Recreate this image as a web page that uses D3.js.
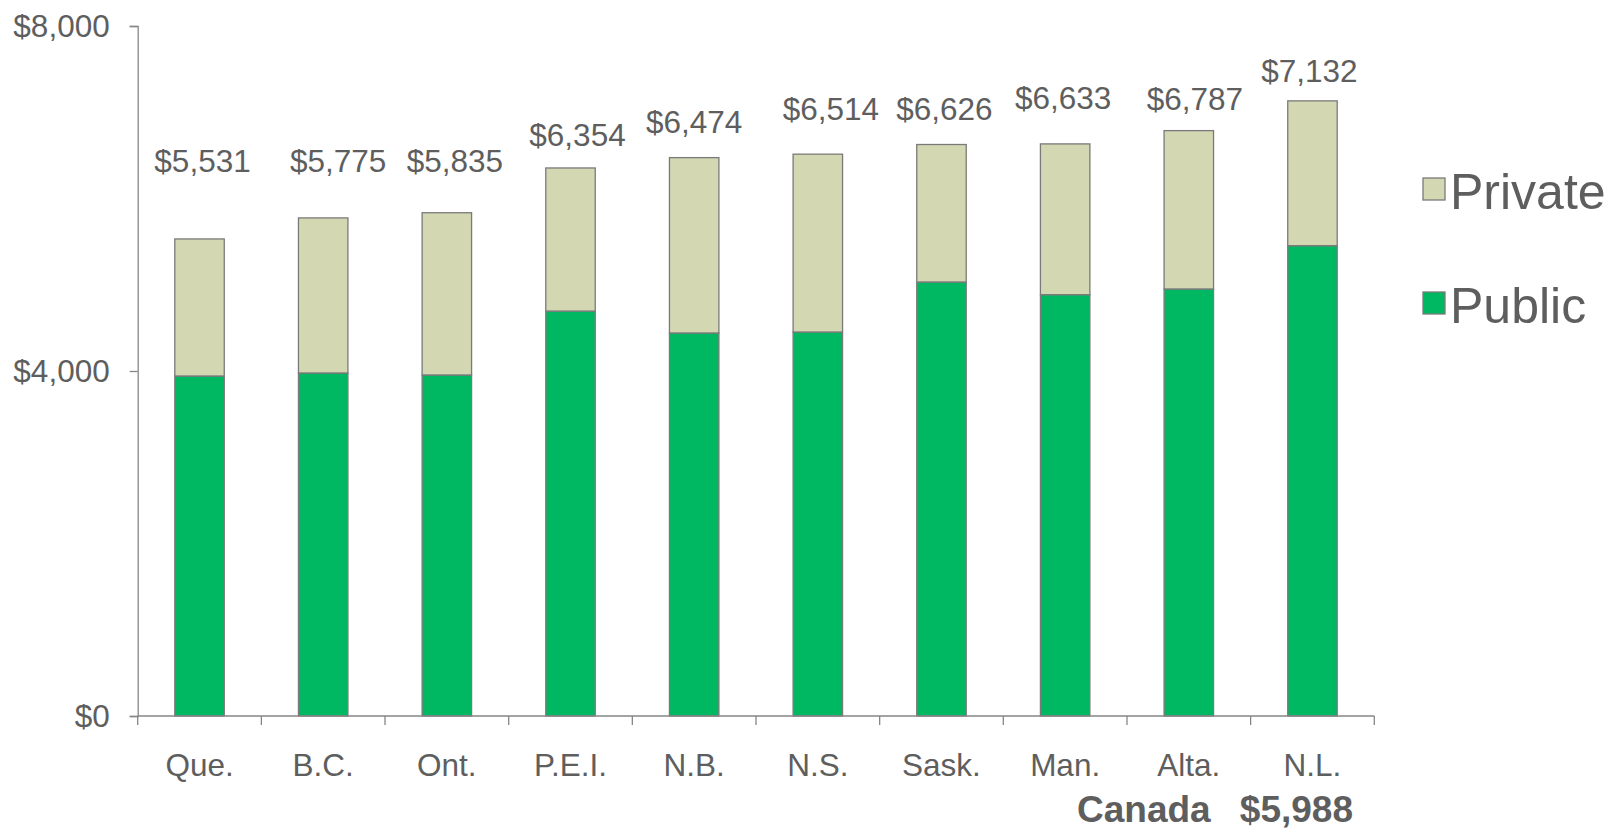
<!DOCTYPE html>
<html>
<head>
<meta charset="utf-8">
<script src="https://cdn.jsdelivr.net/npm/d3@7"></script>
<style>
  body { margin: 0; background: #fff; }
  text { font-family: "Liberation Sans", Arial, sans-serif; fill: #5e5e5e; }
</style>
</head>
<body>
<div id="chart"></div>
<script>
var provinces = ["Que.", "B.C.", "Ont.", "P.E.I.", "N.B.", "N.S.", "Sask.", "Man.", "Alta.", "N.L."];
var publicSpend = [3942, 3977, 3954, 4695, 4441, 4452, 5032, 4885, 4951, 5453];
var privateSpend = [1589, 1798, 1881, 1659, 2033, 2062, 1594, 1748, 1836, 1679];
var totals = [5531, 5775, 5835, 6354, 6474, 6514, 6626, 6633, 6787, 7132];
var yTicks = [0, 4000, 8000];
var canadaLabel = "Canada";
var canadaAvg = 5988;

// hand placed total labels in the original: [dx, lift above bar top]
var labelShift = [[3, 67], [15, 46], [8, 41], [7, 22], [0, 25], [13, 34], [3, 25], [-2, 35], [6, 21], [-3, 19]];

var svgWidth = 1610;
var svgHeight = 830;

var svg = d3.select("#chart")
  .append("svg")
  .attr("width", svgWidth)
  .attr("height", svgHeight);

var x = d3.scaleBand()
  .domain(provinces)
  .range([137.7, 1374.3])
  .paddingInner(0.6)
  .paddingOuter(0.3);

var y = d3.scaleLinear()
  .domain([0, 8000])
  .range([716, 26]);

var fmt = d3.format("$,");
var axisColor = "#868686";

// stacked data
var rows = provinces.map(function(p, i) {
  return { prov: p, Public: publicSpend[i], Private: privateSpend[i] };
});
var stack = d3.stack().keys(["Public", "Private"])(rows);
var colors = { Public: "#00b862", Private: "#d3d7b2" };

svg.append("g")
  .selectAll("g")
  .data(stack)
  .enter()
  .append("g")
  .attr("fill", d => colors[d.key])
  .selectAll("rect")
  .data(d => d)
  .enter()
  .append("rect")
  .attr("x", d => x(d.data.prov))
  .attr("width", x.bandwidth())
  .attr("y", d => y(d[1]))
  .attr("height", d => y(d[0]) - y(d[1]))
  .attr("stroke", "#7a7a7a")
  .attr("stroke-width", 1.3);

// y axis
var leftAxis = d3.axisLeft(y)
  .tickValues(yTicks)
  .tickFormat(fmt)
  .tickSize(8)
  .tickPadding(20);

var yAxis = svg.append("g")
  .attr("transform", "translate(137.7,0)")
  .call(leftAxis);
yAxis.select(".domain").attr("stroke", axisColor).attr("stroke-width", 1.3);
yAxis.selectAll(".tick line").attr("stroke", axisColor).attr("stroke-width", 1.3);
yAxis.selectAll("text")
  .attr("font-size", 31.5)
  .attr("fill", "#5e5e5e")
  .attr("font-family", "Liberation Sans, Arial, sans-serif");

// x axis, ticks on category boundaries
var xAxis = svg.append("g");
xAxis.append("line")
  .attr("x1", 137.7).attr("x2", 1374.3)
  .attr("y1", 716).attr("y2", 716)
  .attr("stroke", axisColor)
  .attr("stroke-width", 1.3);

var step = x.step();
xAxis.selectAll(".xtick")
  .data(d3.range(provinces.length + 1))
  .enter()
  .append("line")
  .attr("x1", i => 137.7 + i * step)
  .attr("x2", i => 137.7 + i * step)
  .attr("y1", 716)
  .attr("y2", 725)
  .attr("stroke", axisColor)
  .attr("stroke-width", 1.3);

xAxis.selectAll(".xlabel")
  .data(provinces)
  .enter()
  .append("text")
  .attr("x", d => x(d) + x.bandwidth() / 2)
  .attr("y", 776)
  .attr("text-anchor", "middle")
  .attr("font-size", 31.5)
  .text(d => d);

// total labels
svg.selectAll(".total")
  .data(totals)
  .enter()
  .append("text")
  .attr("x", (d, i) => x(provinces[i]) + x.bandwidth() / 2 + labelShift[i][0])
  .attr("y", (d, i) => y(d) - labelShift[i][1])
  .attr("text-anchor", "middle")
  .attr("font-size", 31.5)
  .text(d => fmt(d));

// Canada average
svg.append("text")
  .attr("x", 1077)
  .attr("y", 822)
  .attr("font-size", 37)
  .attr("font-weight", "bold")
  .text(canadaLabel);
svg.append("text")
  .attr("x", 1353)
  .attr("y", 822)
  .attr("text-anchor", "end")
  .attr("font-size", 37)
  .attr("font-weight", "bold")
  .text(fmt(canadaAvg));

// legend
var legendKeys = ["Private", "Public"];
var legend = svg.append("g")
  .selectAll("g")
  .data(legendKeys)
  .enter()
  .append("g")
  .attr("transform", (d, i) => `translate(1423, ${178 + i * 114})`);

legend.append("rect")
  .attr("width", 22)
  .attr("height", 22)
  .attr("fill", d => colors[d])
  .attr("stroke", "#7a7a7a")
  .attr("stroke-width", 1.3);

legend.append("text")
  .attr("x", 27)
  .attr("y", 31)
  .attr("font-size", 50)
  .text(d => d);
</script>
</body>
</html>
